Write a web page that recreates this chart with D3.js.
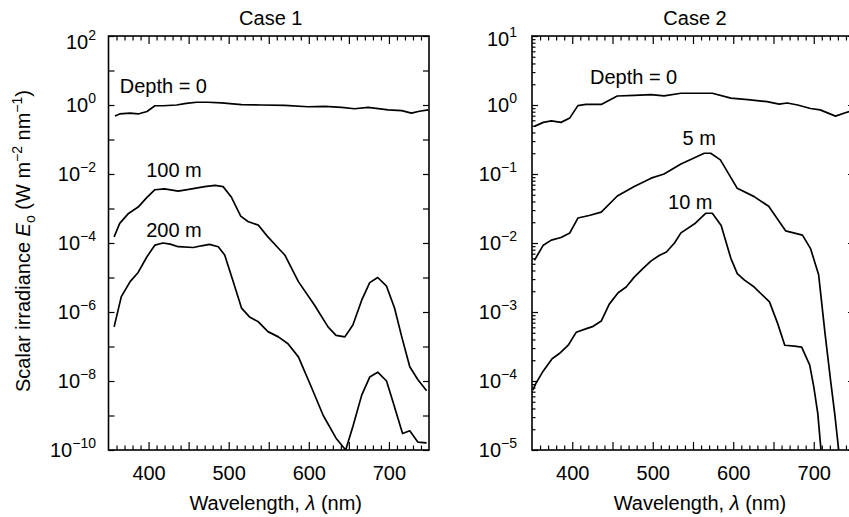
<!DOCTYPE html>
<meta charset="utf-8">
<script src="https://d3js.org/d3.v7.min.js"></script>
<style>
  body { margin: 0; background: #fff; }
  text { font-family: "Liberation Sans", Arial, sans-serif; fill: #000; }
</style>
<div id="chart"></div>
<script>
// ---- data ----
// Case 1
var c1Depth0Wl  = [358,364,377,387,398,408,418,435,447,460,474,491,516,541,570,599,620,641,657,674,699,716,728,738,749];
var c1Depth0Val = [0.48,0.55,0.58,0.55,0.65,0.95,0.95,1.0,1.12,1.2,1.2,1.15,1.02,1.0,0.98,0.89,0.91,0.85,0.78,0.85,0.72,0.69,0.58,0.66,0.72];

var c1D100Wl  = [357,364,375,387,398,408,420,437,454,470,483,493,503,515,524,537,549,560,570,587,607,624,634,645,655,666,676,686,697,707,716,726,736,747];
var c1D100Val = [1.5e-4,3.7e-4,7.2e-4,1.1e-3,2.1e-3,3.5e-3,3.7e-3,3.2e-3,3.7e-3,4.3e-3,4.7e-3,4.3e-3,2.2e-3,6.0e-4,4.2e-4,3.3e-4,1.5e-4,7.9e-5,4.5e-5,7.6e-6,1.6e-6,3.7e-7,2.1e-7,1.9e-7,4.2e-7,2.2e-6,7.1e-6,1.0e-5,5.6e-6,1.3e-6,1.9e-7,2.6e-8,1.1e-8,5.2e-9];

var c1D200Wl  = [357,366,377,387,398,408,418,427,437,456,466,476,487,495,505,516,526,537,549,562,574,587,603,618,634,646,655,666,676,686,697,705,717,726,736,747];
var c1D200Val = [3.7e-7,2.8e-6,7.6e-6,1.4e-5,4.0e-5,8.7e-5,1.0e-4,9.3e-5,7.8e-5,7.4e-5,8.3e-5,9.1e-5,7.8e-5,4.5e-5,8.5e-6,1.3e-6,7.2e-7,5.2e-7,2.7e-7,1.9e-7,1.2e-7,5.0e-8,6.8e-9,1.0e-9,2.2e-10,1.0e-10,4.8e-10,3.9e-9,1.3e-8,1.8e-8,1.0e-8,2.5e-9,3.0e-10,3.6e-10,1.7e-10,1.6e-10];

// Case 2
var c2Depth0Wl  = [353,364,374,386,397,407,417,436,456,477,498,514,535,574,597,618,642,657,667,680,696,708,727,742,750];
var c2Depth0Val = [0.49,0.56,0.59,0.56,0.65,0.98,1.02,1.02,1.35,1.38,1.41,1.36,1.48,1.48,1.26,1.2,1.12,1.03,1.07,1.0,0.89,0.85,0.69,0.79,0.83];

var c2D5Wl  = [353,364,374,386,397,407,421,436,456,477,498,514,535,564,572,584,605,626,644,665,686,696,706,714,721,726,731,734];
var c2D5Val = [5.6e-3,9.3e-3,1.1e-2,1.2e-2,1.4e-2,2.3e-2,2.5e-2,2.8e-2,4.8e-2,6.6e-2,8.7e-2,0.10,0.14,0.20,0.20,0.16,6.2e-2,4.7e-2,3.4e-2,1.5e-2,1.3e-2,8.3e-3,3.5e-3,4.9e-4,1.0e-4,3.4e-5,1.0e-5,5e-6];

var c2D10Wl  = [351,355,364,375,384,395,405,415,426,436,446,457,467,477,488,498,508,517,527,535,552,566,574,585,597,605,614,626,645,655,664,676,685,695,700,705,709,711];
var c2D10Val = [7.4e-5,9.3e-5,1.4e-4,2.1e-4,2.5e-4,3.3e-4,5.1e-4,5.6e-4,6.2e-4,7.4e-4,1.3e-3,1.9e-3,2.3e-3,3.2e-3,4.3e-3,5.5e-3,6.6e-3,7.4e-3,1.0e-2,1.4e-2,1.9e-2,2.7e-2,2.7e-2,1.8e-2,6.0e-3,3.6e-3,2.9e-3,2.3e-3,1.4e-3,6.9e-4,3.3e-4,3.2e-4,3.1e-4,1.7e-4,8.3e-5,3.4e-5,1.0e-5,5e-6];

// tick labels
var xTickLabels = [400, 500, 600, 700];
var c1YLabels = [2, 0, -2, -4, -6, -8, -10];      // exponents of 10
var c2YLabels = [1, 0, -1, -2, -3, -4, -5];

// curve labels: text, wavelength and value of the label's left baseline point
var c1Labels = [
  {text: "Depth = 0", wl: 364, val: Math.pow(10, 0.35)},
  {text: "100 m", wl: 397, val: Math.pow(10, -2.09)},
  {text: "200 m", wl: 397, val: Math.pow(10, -3.82)}
];
var c2Labels = [
  {text: "Depth = 0", wl: 422, val: Math.pow(10, 0.31)},
  {text: "5 m", wl: 537, val: Math.pow(10, -0.58)},
  {text: "10 m", wl: 519, val: Math.pow(10, -1.51)}
];

// ---- drawing ----
var W = 849, H = 517;
var svg = d3.select("#chart").append("svg")
  .attr("width", W).attr("height", H)
  .style("background", "#fff");

function sup(v) { return String(v).replace("-", "\u2212"); }

function drawPanel(opt) {
  var top = 36, bottom = 450;
  var x = d3.scaleLinear().domain([350, 750]).range([opt.left, opt.right]);
  var y = d3.scaleLog().domain(opt.yDomain).range([bottom, top]);

  var g = svg.append("g");

  // clip
  svg.append("clipPath").attr("id", opt.id + "clip")
    .append("rect").attr("x", opt.left).attr("y", top)
    .attr("width", opt.right - opt.left).attr("height", bottom - top);

  var minorX = d3.range(360, 750, 10).filter(function(d) { return d % 50 !== 0; });
  var majorX = d3.range(400, 750, 50);

  function cleanAxis(sel) {
    sel.select(".domain").remove();
    sel.selectAll(".tick line").attr("stroke", "#000").attr("stroke-width", 1.2);
  }

  // bottom ticks (inward)
  g.append("g").attr("transform", "translate(0," + bottom + ")")
    .call(d3.axisBottom(x).tickValues(minorX).tickSize(-4.5).tickFormat(""))
    .call(cleanAxis);
  g.append("g").attr("transform", "translate(0," + bottom + ")")
    .call(d3.axisBottom(x).tickValues(majorX).tickSize(-8).tickPadding(16)
      .tickFormat(function(d) { return xTickLabels.indexOf(d) >= 0 ? d : ""; }))
    .call(cleanAxis)
    .call(function(s) {
      s.selectAll("text").attr("font-size", 20).attr("font-family", "Liberation Sans, Arial, sans-serif");
    });
  // top ticks
  g.append("g").attr("transform", "translate(0," + top + ")")
    .call(d3.axisTop(x).tickValues(minorX).tickSize(-4.5).tickFormat(""))
    .call(cleanAxis);
  g.append("g").attr("transform", "translate(0," + top + ")")
    .call(d3.axisTop(x).tickValues(majorX).tickSize(-8).tickFormat(""))
    .call(cleanAxis);

  // y ticks
  var decades = d3.range(opt.yExp[1], opt.yExp[0] + 1).map(function(e) { return Math.pow(10, e); });
  g.append("g").attr("transform", "translate(" + opt.left + ",0)")
    .call(d3.axisRight(y).tickValues(decades).tickSize(6).tickFormat(""))
    .call(cleanAxis);
  g.append("g").attr("transform", "translate(" + opt.right + ",0)")
    .call(d3.axisLeft(y).tickValues(decades).tickSize(6).tickFormat(""))
    .call(cleanAxis);
  if (opt.minorY) {
    var minors = [];
    decades.slice(0, -1).forEach(function(d) {
      for (var k = 2; k <= 9; k++) minors.push(d * k);
    });
    g.append("g").attr("transform", "translate(" + opt.left + ",0)")
      .call(d3.axisRight(y).tickValues(minors).tickSize(3.5).tickFormat(""))
      .call(cleanAxis);
  }

  // y tick labels 10^n (top one sits a little lower, as in the original)
  opt.yLabels.forEach(function(e, i) {
    var t = g.append("text")
      .attr("x", opt.labelX).attr("y", y(Math.pow(10, e)) + 7 + (i === 0 ? opt.topShift : 0))
      .attr("text-anchor", "end").attr("font-size", 20);
    t.append("tspan").text("10");
    t.append("tspan").attr("dy", -9).attr("font-size", 14).text(sup(e));
  });

  // frame
  g.append("rect")
    .attr("x", opt.left).attr("y", top)
    .attr("width", opt.right - opt.left).attr("height", bottom - top)
    .attr("fill", "none").attr("stroke", "#000").attr("stroke-width", 1.6);

  // curves
  var line = d3.line()
    .x(function(d) { return x(d[0]); })
    .y(function(d) { return y(d[1]); });
  var curves = g.append("g").attr("clip-path", "url(#" + opt.id + "clip)");
  opt.series.forEach(function(s) {
    curves.append("path")
      .datum(d3.zip(s[0], s[1]))
      .attr("fill", "none").attr("stroke", "#000")
      .attr("stroke-width", 1.7).attr("stroke-linejoin", "round")
      .attr("d", line);
  });

  // curve labels
  opt.labels.forEach(function(l) {
    g.append("text").attr("x", x(l.wl)).attr("y", y(l.val))
      .attr("font-size", 20).text(l.text);
  });

  // title
  g.append("text").attr("x", (opt.left + opt.right) / 2 + 2).attr("y", 25)
    .attr("text-anchor", "middle").attr("font-size", 20).text(opt.title);

  // x title
  var xt = g.append("text").attr("x", (opt.left + opt.right) / 2 + 7).attr("y", 510)
    .attr("text-anchor", "middle").attr("font-size", 20);
  xt.append("tspan").text("Wavelength, ");
  xt.append("tspan").attr("font-style", "italic").text("\u03bb");
  xt.append("tspan").text(" (nm)");
}

drawPanel({
  id: "p1", left: 108.5, right: 429, title: "Case 1",
  yDomain: [1e-10, 1e2], yExp: [2, -10], minorY: false,
  yLabels: c1YLabels, labelX: 96, topShift: 6,
  series: [[c1Depth0Wl, c1Depth0Val], [c1D100Wl, c1D100Val], [c1D200Wl, c1D200Val]],
  labels: c1Labels
});
drawPanel({
  id: "p2", left: 532, right: 854, title: "Case 2",
  yDomain: [1e-5, 1e1], yExp: [1, -5], minorY: true,
  yLabels: c2YLabels, labelX: 517, topShift: 3,
  series: [[c2Depth0Wl, c2Depth0Val], [c2D5Wl, c2D5Val], [c2D10Wl, c2D10Val]],
  labels: c2Labels
});

// y axis title
var yt = svg.append("text")
  .attr("transform", "translate(30,241) rotate(-90)")
  .attr("text-anchor", "middle").attr("font-size", 20);
yt.append("tspan").text("Scalar irradiance ");
yt.append("tspan").attr("font-style", "italic").text("E");
yt.append("tspan").attr("font-size", 14).attr("dy", 5).text("o");
yt.append("tspan").attr("dy", -5).text(" (W m");
yt.append("tspan").attr("font-size", 14).attr("dy", -8).text("\u22122");
yt.append("tspan").attr("dy", 8).text(" nm");
yt.append("tspan").attr("font-size", 14).attr("dy", -8).text("\u22121");
yt.append("tspan").attr("dy", 8).text(")");
</script>
